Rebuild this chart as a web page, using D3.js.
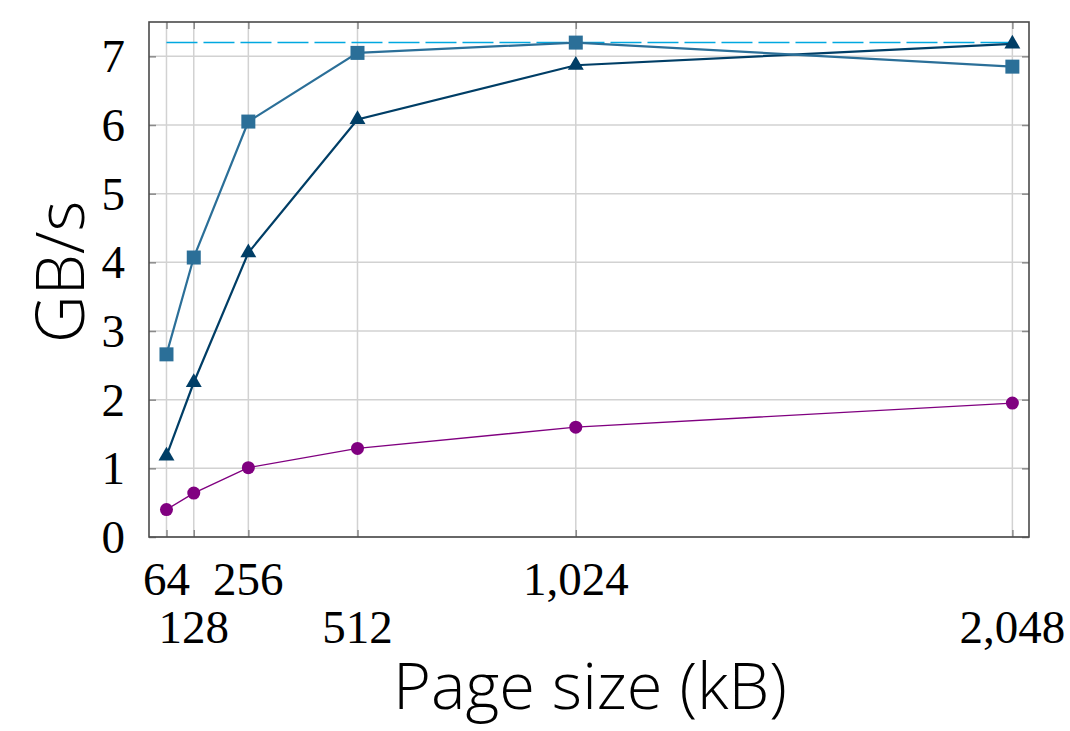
<!DOCTYPE html>
<html>
<head>
<meta charset="utf-8">
<script src="https://cdn.jsdelivr.net/npm/d3@7"></script>
<style>
  body { margin: 0; background: #fff; }
  svg { display: block; }
</style>
</head>
<body>
<svg id="chart"></svg>
<script>
// page sizes (kB) and measured throughput (GB/s)
const pageSizes = [64, 128, 256, 512, 1024, 2048];
const squareSeries = [2.66, 4.07, 6.05, 7.05, 7.2, 6.85];
const triangleSeries = [1.18, 2.25, 4.14, 6.08, 6.87, 7.18];
const circleSeries = [0.40, 0.64, 1.01, 1.29, 1.60, 1.95];
const peakLine = 7.2;
const yTicks = [0, 1, 2, 3, 4, 5, 6, 7];

const W = 1070, H = 731;
const margin = { top: 22, right: 41, bottom: 194, left: 149 };
const w = W - margin.left - margin.right;
const h = H - margin.top - margin.bottom;

const svg = d3.select('#chart').attr('width', W).attr('height', H);
const g = svg.append('g').attr('transform', `translate(${margin.left},${margin.top})`);

const xScale = d3.scaleLinear().domain([23, 2087]).range([0, w]);
const yScale = d3.scaleLinear().domain([0, 7.5]).range([h, 0]);

// grid
g.append('g').selectAll('line').data(pageSizes).join('line')
    .attr('x1', d => xScale(d)).attr('x2', d => xScale(d))
    .attr('y1', 0).attr('y2', h)
    .attr('stroke', '#d2d2d2').attr('stroke-width', 1.5);
g.append('g').selectAll('line').data(yTicks).join('line')
    .attr('x1', 0).attr('x2', w)
    .attr('y1', d => yScale(d)).attr('y2', d => yScale(d))
    .attr('stroke', '#d2d2d2').attr('stroke-width', 1.5);

// axes (ticks inside, labels drawn separately)
const xBottom = g.append('g').attr('transform', `translate(0,${h})`)
    .call(d3.axisTop(xScale).tickValues(pageSizes).tickSize(7).tickFormat(''));
const xTop = g.append('g')
    .call(d3.axisBottom(xScale).tickValues(pageSizes).tickSize(7).tickFormat(''));
const yLeft = g.append('g')
    .call(d3.axisRight(yScale).tickValues(yTicks).tickSize(7).tickFormat(''));
const yRight = g.append('g').attr('transform', `translate(${w},0)`)
    .call(d3.axisLeft(yScale).tickValues(yTicks).tickSize(7).tickFormat(''));
[xBottom, xTop, yLeft, yRight].forEach(a => {
    a.select('.domain').remove();
    a.selectAll('.tick line').attr('stroke', '#8a8a8a').attr('stroke-width', 1.5);
});

// frame
g.append('rect').attr('width', w).attr('height', h)
    .attr('fill', 'none').attr('stroke', '#4a4a4a').attr('stroke-width', 1.6);

// tick labels
const fmt = d3.format(',');
g.append('g').selectAll('text').data(pageSizes).join('text')
    .attr('x', d => xScale(d))
    .attr('y', (d, i) => h + (i % 2 === 0 ? 58 : 106))
    .attr('text-anchor', 'middle')
    .style('font-family', '"Liberation Serif", serif')
    .style('font-size', '47px')
    .text(d => fmt(d));
g.append('g').selectAll('text').data(yTicks).join('text')
    .attr('x', -24)
    .attr('y', d => yScale(d))
    .attr('dy', '0.34em')
    .attr('text-anchor', 'end')
    .style('font-family', '"Liberation Serif", serif')
    .style('font-size', '47px')
    .text(d => d);

// axis titles
svg.append('text')
    .attr('x', 590)
    .attr('y', 709)
    .attr('text-anchor', 'middle')
    .style('font-family', '"Open Sans", sans-serif')
    .style('font-weight', 300)
    .style('font-size', '65px')
    .text('Page size (kB)');
svg.append('text')
    .attr('transform', `translate(84,${margin.top + yScale(3.86)}) rotate(-90)`)
    .attr('text-anchor', 'middle')
    .style('font-family', '"Open Sans", sans-serif')
    .style('font-weight', 300)
    .style('font-size', '66px')
    .text('GB/s');

// peak reference
g.append('line')
    .attr('x1', xScale(64)).attr('x2', xScale(2048))
    .attr('y1', yScale(peakLine)).attr('y2', yScale(peakLine))
    .attr('stroke', '#00a8e0').attr('stroke-width', 1.5)
    .attr('stroke-dasharray', '31 6');

const line = d3.line().x((d, i) => xScale(pageSizes[i])).y(d => yScale(d));

// purple circles
g.append('path').datum(circleSeries).attr('d', line)
    .attr('fill', 'none').attr('stroke', '#800080').attr('stroke-width', 1.4);
g.append('g').selectAll('circle').data(circleSeries).join('circle')
    .attr('cx', (d, i) => xScale(pageSizes[i])).attr('cy', d => yScale(d))
    .attr('r', 6.5).attr('fill', '#800080');

// triangles
g.append('path').datum(triangleSeries).attr('d', line)
    .attr('fill', 'none').attr('stroke', '#003e66').attr('stroke-width', 2.2);
g.append('g').selectAll('path').data(triangleSeries).join('path')
    .attr('transform', (d, i) => `translate(${xScale(pageSizes[i])},${yScale(d)})`)
    .attr('d', d3.symbol(d3.symbolTriangle, 110))
    .attr('fill', '#003e66');

// squares
g.append('path').datum(squareSeries).attr('d', line)
    .attr('fill', 'none').attr('stroke', '#2b6f98').attr('stroke-width', 2.2);
g.append('g').selectAll('rect').data(squareSeries).join('rect')
    .attr('x', (d, i) => xScale(pageSizes[i]) - 7).attr('y', d => yScale(d) - 7)
    .attr('width', 14).attr('height', 14)
    .attr('fill', '#2b6f98');
</script>
</body>
</html>
